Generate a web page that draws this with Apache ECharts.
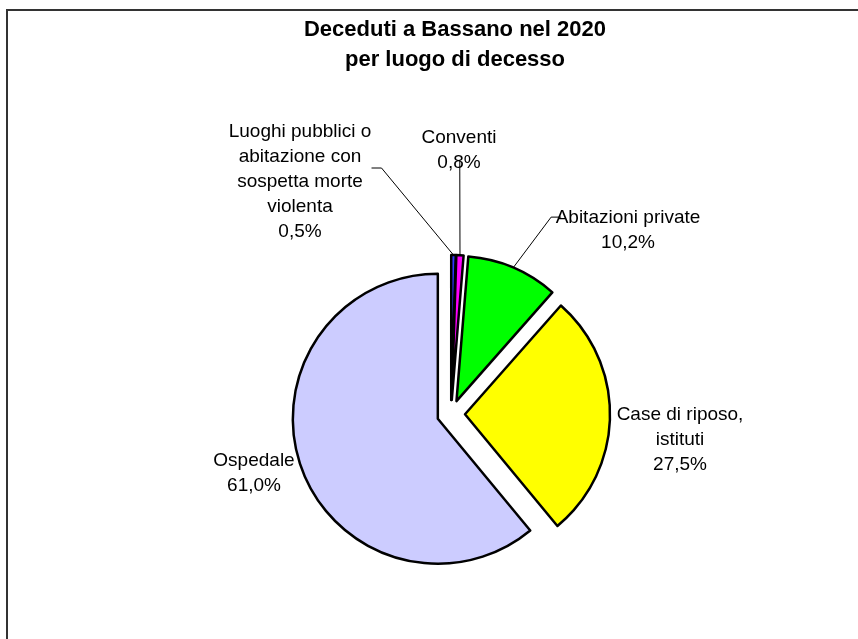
<!DOCTYPE html>
<html>
<head>
<meta charset="utf-8">
<script src="https://cdn.jsdelivr.net/npm/echarts@6/dist/echarts.min.js"></script>
<style>html,body{margin:0;padding:0;background:#fff;}#c{width:858px;height:639px;}</style>
</head>
<body>
<div id="c"></div>
<script>
var categories = ['Luoghi pubblici o\nabitazione con\nsospetta morte\nviolenta', 'Conventi', 'Abitazioni private', 'Case di riposo,\nistituti', 'Ospedale'];
var values = [0.5, 0.8, 10.2, 27.5, 61.0];
var percentLabels = ['0,5%', '0,8%', '10,2%', '27,5%', '61,0%'];
var colors = ['#3333ff', '#ff00ff', '#00ff00', '#ffff00', '#ccccff'];
var showLine = [true, true, true, false, false];
var labelPos = [[300, 182], [459, 150], [628, 230], [680, 440], [254, 473]];
var pieCenter = [451, 414];
var explode = 14;

// selection offset vector of each slice (used to place labels)
var total = values.reduce(function (a, b) { return a + b; }, 0);
var offs = [];
(function () {
  var cum = 0;
  for (var i = 0; i < values.length; i++) {
    var mid = (90 - 360 * (cum + values[i] / 2) / total) * Math.PI / 180;
    offs.push([Math.cos(mid) * explode, -Math.sin(mid) * explode]);
    cum += values[i];
  }
})();

var chart = echarts.init(document.getElementById('c'), null, {renderer: 'canvas'});
var data = categories.map(function (c, i) {
  return {
    name: c, value: values[i], selected: true,
    itemStyle: {color: colors[i]},
    select: {itemStyle: {color: colors[i], borderColor: '#000', borderWidth: 2.5}},
    labelLine: {show: showLine[i]},
    label: {formatter: c + '\n' + percentLabels[i]}
  };
});
chart.setOption({
  animation: false,
  title: {
    text: 'Deceduti a Bassano nel 2020\nper luogo di decesso',
    left: 450, top: 10, textAlign: 'center',
    textStyle: {fontFamily: 'Liberation Sans', fontSize: 22, fontWeight: 'bold', color: '#000', lineHeight: 30}
  },
  graphic: [{
    type: 'rect', shape: {x: 7, y: 10, width: 900, height: 700},
    style: {fill: 'none', stroke: '#333', lineWidth: 2}, silent: true, z: -1
  }],
  series: [{
    type: 'pie',
    center: pieCenter,
    radius: 145,
    startAngle: 90,
    selectedMode: 'multiple',
    selectedOffset: explode,
    avoidLabelOverlap: false,
    itemStyle: {borderColor: '#000', borderWidth: 2.5},
    emphasis: {disabled: true},
    label: {show: true, position: 'outside', color: '#000', fontFamily: 'Liberation Sans', fontSize: 19, lineHeight: 25},
    labelLine: {show: true, length: 15, length2: 10, lineStyle: {color: '#000', width: 1}},
    labelLayout: function (p) {
      var r = p.labelRect;
      var i = p.dataIndex;
      var pos = labelPos[i];
      var isLeft = (r.x + r.width / 2) < pieCenter[0];
      var ax = (isLeft ? r.x + r.width : r.x) + offs[i][0];
      var ay = r.y + r.height / 2 + offs[i][1];
      return {x: ax, y: ay, dx: pos[0] - ax, dy: pos[1] - ay, align: 'center', verticalAlign: 'middle'};
    },
    data: data
  }]
});
</script>
</body>
</html>
